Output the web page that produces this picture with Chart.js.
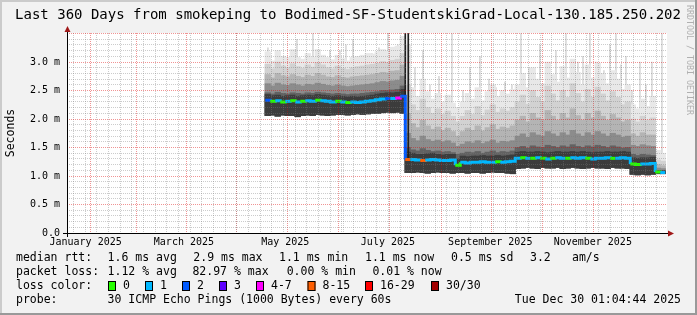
<!DOCTYPE html>
<html>
<head>
<meta charset="utf-8">
<script src="https://cdn.jsdelivr.net/npm/chart.js"></script>
<style>
  html, body { margin: 0; padding: 0; background: #f2f2f2; }
  canvas { display: block; }
</style>
</head>
<body>
<canvas id="smoke" width="697" height="315"></canvas>

<script>
    // time axis is in days since 1 Jan 2025, graph covers the last 360 days
    var rangeStartDay = 3.04;
    var rangeEndDay = 363.04;

    var monthLabels = ['January 2025', 'March 2025', 'May 2025', 'July 2025', 'September 2025', 'November 2025'];
    var monthLabelDays = [14.2, 73.2, 134.0, 195.6, 257.0, 318.5];
    var monthStartDays = [31, 59, 90, 120, 151, 181, 212, 243, 273, 304, 334];
    var firstWeekLine = 3.42;

    var yTickValues = [0, 0.5, 1.0, 1.5, 2.0, 2.5, 3.0];
    var yTickLabels = ['0.0', '0.5 m', '1.0 m', '1.5 m', '2.0 m', '2.5 m', '3.0 m'];

    // 80 bins of 3 days each, starting at day 122 (values in ms)
    var firstBinDay = 122;
    var binDays = 3;

    var median = [
        2.33, 2.31, 2.32, 2.30, 2.31, 2.32, 2.30, 2.31, 2.32, 2.31, 2.33, 2.32, 2.31, 2.30,
        2.31, 2.30, 2.29, 2.30, 2.29, 2.30, 2.31, 2.32, 2.34, 2.35, 2.36, 2.36, 2.37, 2.40,
        1.29,
        1.29, 1.28, 1.27, 1.28, 1.29, 1.28, 1.27, 1.27, 1.28,
        1.19,
        1.24, 1.23, 1.24, 1.24, 1.25, 1.24, 1.24, 1.25, 1.24, 1.25, 1.26,
        1.31, 1.32, 1.31, 1.31, 1.32, 1.31, 1.30, 1.31, 1.32, 1.31, 1.31, 1.32,
        1.31, 1.32, 1.31, 1.30, 1.31, 1.31, 1.32, 1.31, 1.31, 1.32, 1.31,
        1.21, 1.20, 1.21, 1.21, 1.22,
        1.07, 1.06
    ];

    // lost pings out of 30
    var lossCount = [
        2, 0, 1, 0, 1, 0, 1, 0, 1, 1, 0, 1, 1, 1,
        0, 1, 0, 1, 1, 1, 1, 1, 1, 1, 2, 1, 5, 2,
        10,
        1, 1, 9, 1, 1, 1, 1, 1, 1,
        0,
        1, 1, 1, 1, 1, 1, 1, 0, 1, 1, 1,
        1, 0, 1, 0, 1, 0, 1, 0, 1, 1, 0, 1,
        1, 1, 0, 1, 1, 1, 1, 0, 1, 1, 1,
        0, 0, 1, 1, 1,
        0, 1
    ];

    // smoke: bottom edge, then band tops from darkest to lightest
    var smokeLow = [
        2.06, 2.07, 2.05, 2.07, 2.06, 2.06, 2.04, 2.06, 2.07, 2.06, 2.08, 2.07, 2.06, 2.07,
        2.08, 2.08, 2.07, 2.08, 2.09, 2.08, 2.09, 2.10, 2.10, 2.11, 2.12, 2.11, 2.12, 2.10,
        1.06,
        1.06, 1.07, 1.06, 1.05, 1.06, 1.07, 1.06, 1.06, 1.05,
        1.06,
        1.06, 1.05, 1.06, 1.06, 1.05, 1.06, 1.07, 1.06, 1.06, 1.05, 1.04,
        1.13, 1.14, 1.15, 1.14, 1.13, 1.15, 1.14, 1.14, 1.15, 1.13, 1.14, 1.15,
        1.14, 1.13, 1.14, 1.15, 1.14, 1.14, 1.13, 1.15, 1.14, 1.14, 1.13,
        1.03, 1.02, 1.03, 1.02, 1.03,
        1.04, 1.04
    ];

    var smoke1 = [
        2.43, 2.41, 2.42, 2.40, 2.41, 2.42, 2.40, 2.41, 2.42, 2.41, 2.43, 2.42, 2.41, 2.40,
        2.41, 2.40, 2.39, 2.40, 2.39, 2.40, 2.41, 2.42, 2.44, 2.45, 2.46, 2.46, 2.47, 2.52,
        1.42,
        1.40, 1.38, 1.38, 1.39, 1.40, 1.38, 1.37, 1.38, 1.38,
        1.30,
        1.35, 1.34, 1.35, 1.35, 1.36, 1.35, 1.35, 1.36, 1.35, 1.36, 1.37,
        1.42, 1.43, 1.42, 1.42, 1.43, 1.42, 1.41, 1.42, 1.43, 1.42, 1.42, 1.43,
        1.42, 1.43, 1.42, 1.41, 1.42, 1.42, 1.43, 1.42, 1.42, 1.43, 1.42,
        1.32, 1.31, 1.32, 1.32, 1.33,
        1.09, 1.09
    ];

    var smoke2 = [
        2.46, 2.44, 2.47, 2.45, 2.44, 2.46, 2.45, 2.44, 2.46, 2.45, 2.47, 2.46, 2.45, 2.44,
        2.45, 2.44, 2.43, 2.44, 2.44, 2.45, 2.46, 2.47, 2.48, 2.50, 2.50, 2.51, 2.52, 2.58,
        1.50,
        1.46, 1.44, 1.48, 1.45, 1.43, 1.44, 1.42, 1.43, 1.41,
        1.38,
        1.40, 1.42, 1.41, 1.43, 1.40, 1.42, 1.44, 1.41, 1.43, 1.42, 1.44,
        1.50, 1.52, 1.49, 1.53, 1.51, 1.50, 1.54, 1.52, 1.50, 1.53, 1.51, 1.55,
        1.52, 1.50, 1.53, 1.51, 1.54, 1.52, 1.50, 1.53, 1.51, 1.49, 1.50,
        1.38, 1.36, 1.38, 1.37, 1.36,
        1.10, 1.10
    ];

    var smoke3 = [
        2.62, 2.58, 2.63, 2.60, 2.59, 2.62, 2.60, 2.58, 2.61, 2.60, 2.63, 2.61, 2.59, 2.58,
        2.60, 2.58, 2.57, 2.58, 2.59, 2.60, 2.61, 2.62, 2.64, 2.66, 2.65, 2.67, 2.68, 2.75,
        1.75,
        1.66, 1.62, 1.70, 1.64, 1.61, 1.63, 1.60, 1.62, 1.58,
        1.52,
        1.56, 1.60, 1.58, 1.62, 1.57, 1.60, 1.63, 1.58, 1.61, 1.60, 1.62,
        1.70, 1.74, 1.68, 1.76, 1.72, 1.70, 1.78, 1.74, 1.70, 1.76, 1.72, 1.80,
        1.74, 1.70, 1.76, 1.72, 1.78, 1.74, 1.70, 1.75, 1.72, 1.68, 1.70,
        1.54, 1.52, 1.55, 1.53, 1.52,
        1.14, 1.13
    ];

    var smoke4 = [
        2.78, 2.72, 2.80, 2.76, 2.74, 2.78, 2.75, 2.73, 2.77, 2.75, 2.80, 2.77, 2.74, 2.73,
        2.76, 2.73, 2.72, 2.74, 2.75, 2.76, 2.77, 2.78, 2.80, 2.82, 2.81, 2.84, 2.85, 2.95,
        2.10,
        1.92, 1.85, 1.98, 1.88, 1.82, 1.86, 1.80, 1.84, 1.78,
        1.70,
        1.78, 1.84, 1.80, 1.88, 1.79, 1.85, 1.90, 1.82, 1.86, 1.84, 1.88,
        1.98, 2.05, 1.95, 2.10, 2.02, 1.98, 2.15, 2.05, 1.98, 2.10, 2.02, 2.18,
        2.06, 1.98, 2.10, 2.02, 2.14, 2.05, 1.98, 2.08, 2.02, 1.95, 1.98,
        1.74, 1.70, 1.76, 1.72, 1.72,
        1.20, 1.18
    ];

    var smoke5 = [
        2.96, 2.88, 3.00, 2.93, 2.90, 2.97, 2.92, 2.89, 2.95, 2.91, 2.99, 2.95, 2.90, 2.88,
        2.93, 2.89, 2.87, 2.90, 2.92, 2.93, 2.95, 2.96, 2.98, 3.01, 2.99, 3.03, 3.05, 3.15,
        2.60,
        2.25, 2.15, 2.35, 2.20, 2.10, 2.18, 2.08, 2.14, 2.05,
        1.95,
        2.05, 2.15, 2.08, 2.22, 2.06, 2.16, 2.25, 2.12, 2.18, 2.14, 2.20,
        2.30, 2.42, 2.26, 2.50, 2.38, 2.30, 2.58, 2.44, 2.32, 2.50, 2.38, 2.62,
        2.45, 2.30, 2.52, 2.38, 2.56, 2.44, 2.32, 2.48, 2.38, 2.25, 2.30,
        2.00, 1.95, 2.05, 1.98, 2.02,
        1.28, 1.26
    ];

    var smoke6 = [
        3.18, 3.02, 3.20, 3.10, 3.08, 3.22, 3.08, 3.05, 3.15, 3.08, 3.22, 3.12, 3.08, 3.04,
        3.12, 3.06, 3.02, 3.08, 3.10, 3.12, 3.15, 3.14, 3.18, 3.22, 3.20, 3.26, 3.28, 3.45,
        3.30,
        2.55, 2.40, 2.70, 2.48, 2.35, 2.45, 2.30, 2.42, 2.28,
        2.20,
        2.30, 2.45, 2.35, 2.55, 2.32, 2.48, 2.60, 2.40, 2.50, 2.44, 2.52,
        2.60, 2.80, 2.55, 2.90, 2.70, 2.62, 3.00, 2.78, 2.65, 2.92, 2.72, 3.05,
        2.82, 2.60, 2.95, 2.72, 2.98, 2.80, 2.62, 2.85, 2.70, 2.52, 2.60,
        2.25, 2.18, 2.35, 2.22, 2.40,
        1.45, 1.40
    ];

    // single thin outlier streaks
    var spikeDays = [
        123.6, 128.4, 133.8, 141.0, 146.4, 150.6, 155.4, 160.8, 166.8, 170.4, 174.6, 180.0, 186.0,
        190.2, 195.6, 201.6, 211.8, 216.6, 220.8, 226.2, 234.0, 240.6, 244.8, 250.8, 256.2, 260.4,
        265.8, 270.0, 275.4, 280.2, 286.8, 291.6, 296.4, 302.4, 305.4, 309.6, 312.6, 316.8, 320.4,
        325.2, 328.8, 332.4, 335.4, 338.4, 342.0, 346.8, 350.4, 354.0, 360.0
    ];
    var spikeTops = [
        3.25, 3.00, 3.10, 3.40, 3.15, 3.50, 3.05, 3.20, 3.20, 3.30, 3.40, 3.05, 3.15,
        3.25, 3.50, 3.30, 2.90, 3.20, 2.60, 2.75, 3.50, 2.50, 2.90, 3.10, 2.70, 2.55,
        2.65, 2.60, 3.50, 2.90, 3.30, 2.95, 3.20, 3.50, 2.90, 3.00, 3.10, 3.50, 3.00,
        2.85, 3.30, 3.50, 2.95, 3.10, 2.50, 3.00, 2.60, 3.00, 3.50
    ];

    var darkSpikeDays = [206.0, 207.8];
    var darkSpikeLows = [2.36, 1.28];
    var darkSpikeTops = [3.50, 3.50];

    var lossLabels = ['0', '1', '2', '3', '4-7', '8-15', '16-29', '30/30'];
    var lossColors = ['#26ff00', '#00b8ff', '#0059ff', '#5e00ff', '#ff00ff', '#ff5e00', '#ff0000', '#a10000'];

    var titleText = 'Last 360 Days from smokeping to Bodimed-SF-StudentskiGrad-Local-130.185.250.202';
    var rttStats = ['1.6 ms avg', '2.9 ms max', '1.1 ms min', '1.1 ms now', '0.5 ms sd', '3.2', 'am/s'];
    var lossStats = ['1.12 % avg', '82.97 % max', '0.00 % min', '0.01 % now'];
    var probeText = '30 ICMP Echo Pings (1000 Bytes) every 60s';
    var stampText = 'Tue Dec 30 01:04:44 2025';

    var MONO = "'DejaVu Sans Mono', monospace";
    var MGRID = 'rgba(220,0,0,0.42)';
    var GRID = 'rgba(120,120,120,0.38)';

    function lossIndex(n) {
        if (n <= 3) return n;
        if (n <= 7) return 4;
        if (n <= 15) return 5;
        if (n <= 29) return 6;
        return 7;
    }

    function binCenter(i) { return firstBinDay + i * binDays + binDays / 2; }

    function band(top) {
        return top.map(function (v, i) { return {x: binCenter(i), y: [smokeLow[i], v]}; });
    }

    var medianPoints = median.map(function (v, i) { return {x: firstBinDay + i * binDays, y: v}; });
    medianPoints.push({x: firstBinDay + median.length * binDays, y: median[median.length - 1]});

    var spikePoints = spikeDays.map(function (d, i) {
        var bin = Math.min(median.length - 1, Math.floor((d - firstBinDay) / binDays));
        return {x: d, y: [median[bin], spikeTops[i]]};
    });
    var darkSpikePoints = darkSpikeDays.map(function (d, i) {
        return {x: d, y: [darkSpikeLows[i], darkSpikeTops[i]]};
    });

    var gridDays = monthStartDays.slice();
    for (var w = firstWeekLine; w < rangeEndDay; w += 7) gridDays.push(w);

    function smokeSet(top, color, order) {
        return {type: 'bar', data: band(top), backgroundColor: color, barThickness: 5.6,
                grouped: false, order: order, borderWidth: 0};
    }

    var page = {
        id: 'page',
        beforeDraw: function (chart) {
            var ctx = chart.ctx, a = chart.chartArea, w = chart.width, h = chart.height;
            ctx.save();
            ctx.fillStyle = '#f2f2f2';
            ctx.fillRect(0, 0, w, h);
            ctx.fillStyle = '#cbcbcb';
            ctx.fillRect(0, 0, w, 2);
            ctx.fillRect(0, 0, 2, h);
            ctx.fillStyle = '#999999';
            ctx.fillRect(w - 2, 0, 2, h);
            ctx.fillRect(0, h - 2, w, 2);
            ctx.fillStyle = '#ffffff';
            ctx.fillRect(a.left, a.top, a.right - a.left, a.bottom - a.top);
            ctx.restore();
        },
        afterDraw: function (chart) {
            var ctx = chart.ctx, a = chart.chartArea;
            ctx.save();

            // axes and arrows
            ctx.strokeStyle = '#000';
            ctx.lineWidth = 1;
            ctx.beginPath();
            ctx.moveTo(a.left - 4, a.bottom + 0.5);
            ctx.lineTo(a.right + 2, a.bottom + 0.5);
            ctx.moveTo(a.left + 0.5, a.top - 3);
            ctx.lineTo(a.left + 0.5, a.bottom + 4);
            ctx.stroke();
            ctx.fillStyle = '#a01818';
            ctx.beginPath();
            ctx.moveTo(a.left + 0.5, a.top - 7);
            ctx.lineTo(a.left - 2.5, a.top - 1);
            ctx.lineTo(a.left + 3.5, a.top - 1);
            ctx.closePath();
            ctx.fill();
            ctx.beginPath();
            ctx.moveTo(a.right + 7, a.bottom + 0.5);
            ctx.lineTo(a.right + 1, a.bottom - 2.5);
            ctx.lineTo(a.right + 1, a.bottom + 3.5);
            ctx.closePath();
            ctx.fill();

            // title
            ctx.fillStyle = '#000';
            ctx.font = '14px ' + MONO;
            ctx.textAlign = 'center';
            ctx.textBaseline = 'alphabetic';
            ctx.fillText(titleText, 348, 19);

            // legend
            ctx.font = '11.5px ' + MONO;
            ctx.textAlign = 'left';
            ctx.textBaseline = 'middle';
            ctx.fillText('median rtt:', 16, 258);
            var rttX = [107.6, 193.3, 279, 365, 451, 530, 572];
            rttStats.forEach(function (t, i) { ctx.fillText(t, rttX[i], 258); });
            ctx.fillText('packet loss:', 16, 272);
            var lossX = [107.6, 192.4, 286.7, 372.4];
            lossStats.forEach(function (t, i) { ctx.fillText(t, lossX[i], 272); });
            ctx.fillText('loss color:', 16, 286);
            var boxX = [108, 145, 182, 219, 256, 307.5, 365, 431];
            lossLabels.forEach(function (t, i) {
                ctx.fillStyle = lossColors[i];
                ctx.fillRect(boxX[i], 281, 8, 10);
                ctx.strokeStyle = '#000';
                ctx.strokeRect(boxX[i] + 0.5, 281.5, 7, 9);
                ctx.fillStyle = '#000';
                ctx.fillText(t, boxX[i] + 15, 286);
            });
            ctx.fillText('probe:', 16, 300);
            ctx.fillText(probeText, 107.6, 300);
            ctx.textAlign = 'right';
            ctx.fillText(stampText, 681, 300);

            // watermark
            ctx.translate(689, 5);
            ctx.rotate(Math.PI / 2);
            ctx.textAlign = 'left';
            ctx.fillStyle = '#b0b0b0';
            ctx.font = '8.3px ' + MONO;
            ctx.fillText('RRDTOOL / TOBI OETIKER', 0, 0);
            ctx.restore();
        }
    };

    var ctxS = document.getElementById('smoke').getContext('2d');
    var smokeChart = new Chart(ctxS, {
        type: 'bar',
        data: {
            datasets: [
                {type: 'line', data: medianPoints, stepped: true, borderWidth: 3, pointRadius: 0,
                 borderColor: lossColors[1], order: 1, borderCapStyle: 'butt',
                 segment: {borderColor: function (c) { return lossColors[lossIndex(lossCount[c.p0DataIndex])]; }}},
                {type: 'bar', data: darkSpikePoints, backgroundColor: '#1e1e1e', barThickness: 1,
                 grouped: false, order: 2},
                smokeSet(smoke1, '#3c3c3c', 4),
                smokeSet(smoke2, '#626262', 5),
                smokeSet(smoke3, '#8c8c8c', 6),
                smokeSet(smoke4, '#b4b4b4', 7),
                smokeSet(smoke5, '#d2d2d2', 8),
                smokeSet(smoke6, '#e8e8e8', 9),
                {type: 'bar', data: spikePoints, backgroundColor: '#d8d8d8', barThickness: 1,
                 grouped: false, order: 10}
            ]
        },
        options: {
            responsive: false,
            animation: false,
            devicePixelRatio: 1,
            layout: {padding: {top: 33, right: 30, bottom: 68, left: 0}},
            plugins: {legend: {display: false}, tooltip: {enabled: false}, title: {display: false}},
            scales: {
                x: {
                    type: 'linear', min: rangeStartDay, max: rangeEndDay, offset: false,
                    afterBuildTicks: function (s) { s.ticks = monthLabelDays.map(function (v) { return {value: v}; }); },
                    afterFit: function (s) { s.height = 14; },
                    ticks: {autoSkip: false, maxRotation: 0, padding: 3, color: '#000',
                            font: {family: MONO, size: 10},
                            callback: function (v, i) { return monthLabels[i]; }},
                    grid: {display: false, drawTicks: false},
                    border: {display: false}
                },
                xg: {
                    type: 'linear', position: 'bottom', min: rangeStartDay, max: rangeEndDay, offset: false,
                    afterBuildTicks: function (s) { s.ticks = gridDays.map(function (v) { return {value: v}; }); },
                    afterFit: function (s) { s.height = 0; },
                    ticks: {display: false},
                    grid: {z: 1, drawTicks: false, lineWidth: 1,
                           color: function (c) { return c.tick && monthStartDays.indexOf(c.tick.value) >= 0 ? MGRID : GRID; }},
                    border: {display: false, dash: [1, 1]}
                },
                y: {
                    min: 0, max: 3.509,
                    afterBuildTicks: function (s) {
                        var t = [];
                        for (var i = 0; i <= 35; i++) t.push({value: i / 10});
                        s.ticks = t;
                    },
                    afterFit: function (s) { s.width = 67; },
                    ticks: {autoSkip: false, padding: 7, color: '#000', font: {family: MONO, size: 10},
                            callback: function (v) {
                                var i = yTickValues.findIndex(function (t) { return Math.abs(t - v) < 1e-6; });
                                return i < 0 ? '' : yTickLabels[i];
                            }},
                    grid: {z: 1, drawTicks: false, lineWidth: 1,
                           color: function (c) {
                               var v = c.tick ? c.tick.value : 0;
                               return Math.abs(v * 2 - Math.round(v * 2)) < 1e-6 ? MGRID : GRID;
                           }},
                    border: {display: false, dash: [1, 1]},
                    title: {display: true, text: 'Seconds', color: '#000', font: {family: MONO, size: 11.5},
                            padding: {top: 4, bottom: 0}}
                }
            }
        },
        plugins: [page]
    });
</script>
</body>
</html>
